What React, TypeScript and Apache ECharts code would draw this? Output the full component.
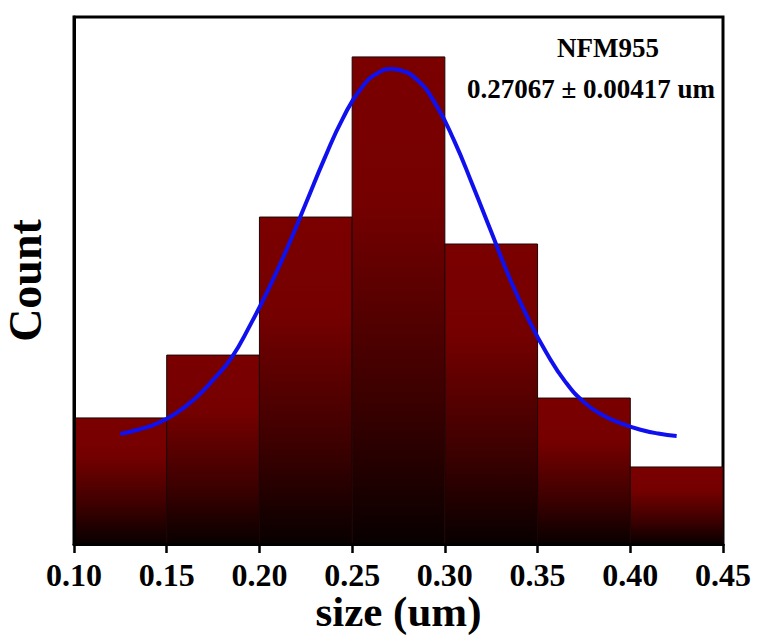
import React, { useEffect, useRef } from "react";
import * as echarts from "echarts";

// Histogram bins (size in um) and counts
const binEdges = [0.10, 0.15, 0.20, 0.25, 0.30, 0.35, 0.40, 0.45];
const counts = [6.22, 9.32, 16.13, 24.03, 14.8, 7.2, 3.8];

// Fitted normal curve
const fitX = [0.125, 0.135, 0.145, 0.155, 0.165, 0.175, 0.185, 0.195, 0.205, 0.215, 0.225, 0.235, 0.245, 0.255, 0.265, 0.2715, 0.275, 0.285, 0.295, 0.305, 0.315, 0.325, 0.335, 0.345, 0.355, 0.365, 0.375, 0.385, 0.395, 0.405, 0.415, 0.425];
const fitY = [5.43, 5.65, 5.95, 6.45, 7.15, 8.1, 9.2, 10.8, 12.6, 14.6, 16.8, 19.0, 21.0, 22.5, 23.3, 23.44, 23.4, 22.9, 21.7, 19.9, 17.7, 15.4, 13.1, 11.1, 9.4, 8.0, 7.0, 6.36, 5.95, 5.65, 5.45, 5.33];

const xTicks = ["0.10", "0.15", "0.20", "0.25", "0.30", "0.35", "0.40", "0.45"];
const sampleName = "NFM955";
const meanText = "0.27067 ± 0.00417 um";

const FONT = "'Liberation Serif', 'Times New Roman', serif";

export default function App() {
  const ref = useRef<HTMLDivElement>(null);
  useEffect(() => {
    if (!ref.current) return;
    const chart = echarts.init(ref.current, null, { renderer: "svg" });
    const histData = counts.map((c, i) => [binEdges[i], binEdges[i + 1], c]);
    const fitData = fitX.map((x, i) => [x, fitY[i]]);
    chart.setOption({
      animation: false,
      backgroundColor: "#ffffff",
      grid: {
        left: 74,
        right: 36,
        top: 17,
        bottom: 95,
        containLabel: false,
        outerBoundsMode: "none",
        show: true,
        borderColor: "#000",
        borderWidth: 3,
        backgroundColor: "transparent",
        z: 0,
      },
      xAxis: {
        type: "value",
        min: 0.1,
        max: 0.45,
        interval: 0.05,
        z: 5,
        axisLine: { show: true, onZero: false, lineStyle: { color: "#000", width: 3 } },
        axisTick: { show: true, inside: false, length: 9, lineStyle: { color: "#000", width: 2.5 } },
        splitLine: { show: false },
        axisLabel: {
          fontFamily: FONT,
          fontWeight: "bold",
          fontSize: 32,
          lineHeight: 24,
          color: "#000",
          margin: 19,
          formatter: (v: number) => {
            const idx = Math.round((v - 0.1) / 0.05);
            return xTicks[idx] ?? v.toFixed(2);
          },
        },
        name: "size (um)",
        nameLocation: "middle",
        nameGap: 48,
        nameMoveOverlap: false,
        nameTextStyle: { fontFamily: FONT, fontWeight: "bold", fontSize: 43, lineHeight: 38, color: "#000" },
      },
      yAxis: {
        type: "value",
        min: 0,
        max: 26,
        z: 5,
        axisLine: { show: true, lineStyle: { color: "#000", width: 3 } },
        axisTick: { show: false },
        axisLabel: { show: false },
        splitLine: { show: false },
        name: "Count",
        nameLocation: "middle",
        nameRotate: 90,
        nameGap: 26,
        nameMoveOverlap: false,
        nameTextStyle: { fontFamily: FONT, fontWeight: "bold", fontSize: 46, color: "#000" },
      },
      graphic: [
        {
          type: "text",
          x: 608,
          y: 48,
          z: 10,
          style: {
            text: sampleName,
            fontFamily: FONT,
            fontWeight: "bold",
            fontSize: 27,
            fill: "#000",
            align: "center",
            verticalAlign: "middle",
          },
        },
        {
          type: "text",
          x: 591,
          y: 89,
          z: 10,
          style: {
            text: meanText,
            fontFamily: FONT,
            fontWeight: "bold",
            fontSize: 27,
            fill: "#000",
            align: "center",
            verticalAlign: "middle",
          },
        },
      ],
      series: [
        {
          type: "custom",
          z: 2,
          data: histData,
          encode: { x: [0, 1], y: 2 },
          renderItem: (params: any, api: any) => {
            const p0 = api.coord([api.value(0), api.value(2)]);
            const p1 = api.coord([api.value(1), 0]);
            return {
              type: "rect",
              shape: { x: p0[0], y: p0[1], width: p1[0] - p0[0], height: p1[1] - p0[1] },
              style: {
                fill: new echarts.graphic.LinearGradient(0, 0, 0, 1, [
                  { offset: 0, color: "#7b0000" },
                  { offset: 0.3, color: "#750000" },
                  { offset: 0.7, color: "#3c0000" },
                  { offset: 1, color: "#080000" },
                ]),
                stroke: "#1e0505",
                lineWidth: 1,
              },
            };
          },
        },
        {
          type: "line",
          z: 4,
          data: fitData,
          smooth: true,
          showSymbol: false,
          symbol: "none",
          lineStyle: { color: "#1010ee", width: 4 },
        },
      ],
    });
    return () => chart.dispose();
  }, []);
  return (
    <div
      ref={ref}
      style={{ position: "fixed", left: 0, top: 0, width: 759, height: 639, background: "#fff" }}
    />
  );
}
